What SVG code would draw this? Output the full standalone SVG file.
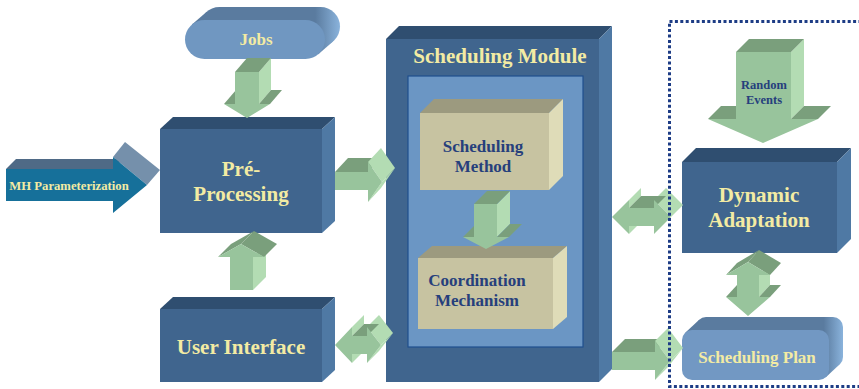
<svg xmlns="http://www.w3.org/2000/svg" width="859" height="389" viewBox="0 0 859 389">
<style>
.bf{fill:#40658e}.bt{fill:#2f4e70}.br{fill:#4f79a4}
.tf{fill:#c7c3a1}.tt{fill:#9c9a7f}.tr{fill:#dfdcb8}
.gf{fill:#98c49c}.gd{fill:#7a9f7c}.gl{fill:#b3dcb3}
.yt{font-family:"Liberation Serif","Times New Roman",serif;font-weight:bold;fill:#f3eba3;text-anchor:middle}
.nt{font-family:"Liberation Serif","Times New Roman",serif;font-weight:bold;fill:#263f7c;text-anchor:middle}
</style>
<defs>
<linearGradient id="pillJ" gradientUnits="userSpaceOnUse" x1="185" y1="0" x2="340" y2="0">
<stop offset="0" stop-color="#5a7b9f"/><stop offset="0.84" stop-color="#5a7b9f"/><stop offset="1" stop-color="#8ab3dc"/>
</linearGradient>
<linearGradient id="pillS" gradientUnits="userSpaceOnUse" x1="682" y1="0" x2="843" y2="0">
<stop offset="0" stop-color="#5a7b9f"/><stop offset="0.88" stop-color="#5a7b9f"/><stop offset="1" stop-color="#8ab3dc"/>
</linearGradient>
</defs>
<rect width="859" height="389" fill="#ffffff"/>

<g id="mh-parameterization">
<polygon points="6,169 113,169 123,159 16,159" fill="#4f6a86"/>
<polygon points="113,157 125,142 160,170 147,185" fill="#7590ab"/>
<polygon points="6,169 113,169 113,157 147,185 113,213 113,201 6,201" fill="#16709a"/>
<text class="yt" x="69" y="190" font-size="12.7">MH Parameterization</text>
</g>

<g id="jobs">
<rect x="200" y="7" width="140" height="39" rx="19.5" fill="url(#pillJ)"/>
<polygon points="191.7,24.8 206.7,11.8 333.3,41.2 318.3,54.2" fill="url(#pillJ)"/>
<rect x="185" y="20" width="140" height="39" rx="19.5" fill="#7097c1"/>
<text class="yt" x="256" y="45" font-size="17">Jobs</text>
</g>

<g id="pre-processing">
<polygon class="bt" points="160,129 322,129 335,117 173,117"/>
<polygon class="br" points="322,129 335,117 335,221 322,233"/>
<rect class="bf" x="160" y="129" width="162" height="104"/>
<text class="yt" x="241" y="176" font-size="21">Pré-</text>
<text class="yt" x="241" y="201" font-size="21">Processing</text>
</g>

<g id="user-interface">
<polygon class="bt" points="160,309 322,309 335,297 173,297"/>
<polygon class="br" points="322,309 335,297 335,370 322,382"/>
<rect class="bf" x="160" y="309" width="162" height="73"/>
<text class="yt" x="241" y="354" font-size="21">User Interface</text>
</g>

<g id="scheduling-module">
<polygon class="bt" points="386,39 599,39 612,26 399,26"/>
<polygon class="br" points="599,39 612,26 612,369 599,382"/>
<rect class="bf" x="386" y="39" width="213" height="343"/>
<rect x="408" y="76" width="175" height="271" fill="#6b96c4" stroke="#1f4f8e" stroke-width="1.2"/>
<text class="yt" x="500" y="63" font-size="21">Scheduling Module</text>
</g>

<g id="scheduling-method">
<polygon class="tt" points="420,113 549,113 563,99 434,99"/>
<polygon class="tr" points="549,113 563,99 563,176 549,190"/>
<rect class="tf" x="420" y="113" width="129" height="77"/>
<text class="nt" x="483" y="152" font-size="17">Scheduling</text>
<text class="nt" x="483" y="172" font-size="17">Method</text>
</g>

<g id="coordination-mechanism">
<polygon class="tt" points="418,258 553,258 567,246 432,246"/>
<polygon class="tr" points="553,258 567,246 567,317 553,329"/>
<rect class="tf" x="418" y="258" width="135" height="71"/>
<text class="nt" x="477" y="286" font-size="17">Coordination</text>
<text class="nt" x="477" y="306" font-size="17">Mechanism</text>
</g>

<g id="dynamic-adaptation">
<polygon class="bt" points="682,162 837,162 851,148 696,148"/>
<polygon class="br" points="837,162 851,148 851,239 837,253"/>
<rect class="bf" x="682" y="162" width="155" height="91"/>
<text class="yt" x="759" y="202" font-size="21">Dynamic</text>
<text class="yt" x="759" y="227" font-size="21">Adaptation</text>
</g>

<g id="scheduling-plan">
<rect x="696" y="317" width="147" height="50" rx="10" fill="url(#pillS)"/>
<polygon points="685.2,332.7 699.2,319.7 839.8,364.3 825.8,377.3" fill="url(#pillS)"/>
<rect x="682" y="330" width="147" height="50" rx="10" fill="#7298c3"/>
<text class="yt" x="757" y="363" font-size="17">Scheduling Plan</text>
</g>

<g id="connectors">
<g id="jobs-to-pre">
<polygon class="gl" points="259,72 271,58 271,90 259,104"/>
<polygon class="gd" points="235,72 259,72 271,58 247,58"/>
<polygon class="gd" points="259,104 270,104 282,90 271,90"/>
<polygon class="gd" points="224,104 235,104 247,90 236,90"/>
<polygon class="gf" points="235,72 259,72 259,104 270,104 247,118 224,104 235,104"/>
</g>
<g id="ui-to-pre">
<polygon class="gl" points="253,257 266,244 266,277 253,290"/>
<polygon class="gd" points="218,257 241,244 254,231 231,244"/>
<polygon class="gd" points="241,244 264,257 277,244 254,231"/>
<polygon class="gf" points="241,244 264,257 253,257 253,290 230,290 230,257 218,257"/>
</g>
<g id="pre-to-module">
<polygon class="gd" points="335,172 368,172 381,158 348,158"/>
<polygon class="gl" points="368,162 381,148 395,168 382,182"/>
<polygon class="gl" points="382,182 395,168 381,188 368,202"/>
<polygon class="gf" points="335,172 368,172 368,162 382,182 368,202 368,190 335,190"/>
</g>
<g id="ui-module">
<polygon class="gl" points="352,327 352,336 364,324 364,315"/>
<polygon class="gl" points="352,354 352,363 364,351 364,342"/>
<polygon class="gl" points="367,327 379,315 393,333 381,345"/>
<polygon class="gl" points="381,345 393,333 379,351 367,363"/>
<polygon class="gd" points="352,336 367,336 379,324 364,324"/>
<polygon class="gf" points="335,345 352,327 352,336 367,336 367,327 381,345 367,363 367,354 352,354 352,363"/>
</g>
<g id="method-to-coordination">
<polygon class="gl" points="497,204 510,191 510,224 497,237"/>
<polygon class="gd" points="474,204 497,204 510,191 487,191"/>
<polygon class="gd" points="497,237 509,237 522,224 510,224"/>
<polygon class="gd" points="463,237 474,237 487,224 476,224"/>
<polygon class="gf" points="474,204 497,204 497,237 509,237 486,249 463,237 474,237"/>
</g>
<g id="module-adaptation">
<polygon class="gl" points="629,200 629,208 641,196 641,188"/>
<polygon class="gl" points="629,226 629,234 641,222 641,214"/>
<polygon class="gl" points="654,200 666,188 683,205 671,217"/>
<polygon class="gl" points="671,217 683,205 666,222 654,234"/>
<polygon class="gd" points="629,208 654,208 666,196 641,196"/>
<polygon class="gf" points="612,217 629,200 629,208 654,208 654,200 671,217 654,234 654,226 629,226 629,234"/>
</g>
<g id="module-to-plan">
<polygon class="gd" points="612,352 655,352 668,339 625,339"/>
<polygon class="gl" points="655,341 668,328 683,348 670,361"/>
<polygon class="gl" points="670,361 683,348 668,367 655,380"/>
<polygon class="gf" points="612,352 655,352 655,341 670,361 655,380 655,370 612,370"/>
</g>
<g id="random-events">
<polygon class="gl" points="791,52 804,39 804,106 791,119"/>
<polygon class="gd" points="736,52 791,52 804,39 749,39"/>
<polygon class="gd" points="791,119 818,119 831,106 804,106"/>
<polygon class="gd" points="708,119 736,119 749,106 721,106"/>
<polygon class="gf" points="736,52 791,52 791,119 818,119 763,143 708,119 736,119"/>
<text class="nt" x="764" y="89" font-size="12.5">Random</text>
<text class="nt" x="764" y="104" font-size="12.5">Events</text>
</g>
<g id="adaptation-plan">
<polygon class="gl" points="759,275 770,263 770,285 759,297"/>
<polygon class="gd" points="726,275 748,262 759,250 737,263"/>
<polygon class="gd" points="748,262 770,275 781,263 759,250"/>
<polygon class="gd" points="759,297 770,297 781,285 770,285"/>
<polygon class="gd" points="726,297 737,297 748,285 737,285"/>
<polygon class="gf" points="748,262 770,275 759,275 759,297 770,297 748,316 726,297 737,297 737,275 726,275"/>
</g>
</g>

<rect id="dynamic-zone" x="669.5" y="21.5" width="210" height="365" fill="none" stroke="#1d3c85" stroke-width="3" stroke-dasharray="3 2.4"/>
</svg>
